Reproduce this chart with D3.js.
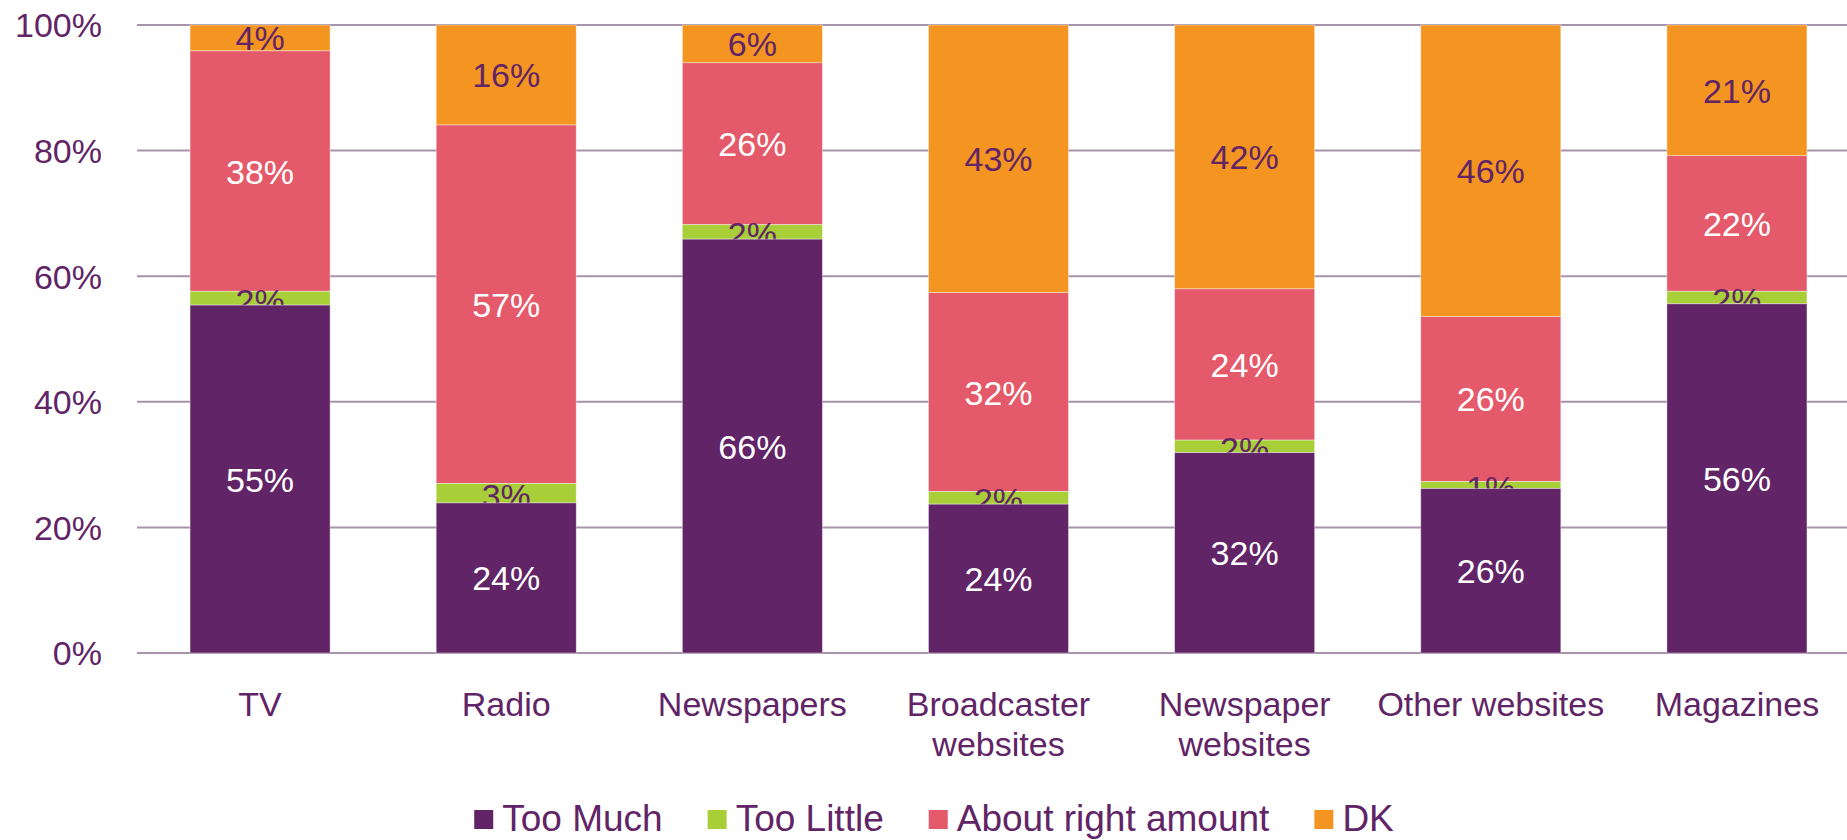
<!DOCTYPE html>
<html>
<head>
<meta charset="utf-8">
<script src="https://cdn.jsdelivr.net/npm/d3@7"></script>
<style>
  html, body { margin: 0; padding: 0; background: #fff; }
  svg { display: block; font-family: "Liberation Sans", Arial, sans-serif; }
</style>
</head>
<body>
<svg id="chart" width="1847" height="840"></svg>
<script>
const categories = ["TV", "Radio", "Newspapers", "Broadcaster websites", "Newspaper websites", "Other websites", "Magazines"];
const seriesNames = ["Too Much", "Too Little", "About right amount", "DK"];
const tooMuch   = [55.4, 23.9, 65.9, 23.7, 31.9, 26.2, 55.6];
const tooLittle = [2.2, 3.1, 2.3, 2.0, 2.0, 1.1, 2.0];
const aboutRight= [38.3, 57.1, 25.8, 31.7, 24.1, 26.3, 21.6];
const dk        = [4.1, 15.9, 6.0, 42.6, 42.0, 46.4, 20.8];
const yTicks = [0, 20, 40, 60, 80, 100];
const colors = ["#612466", "#A8CE38", "#E55A6A", "#F39520"];
const labelColors = ["#ffffff", "#612466", "#ffffff", "#612466"];
const textColor = "#612466";

const svg = d3.select("#chart");
const x = d3.scaleBand().domain(categories).range([137, 1860]).paddingInner(0.431).paddingOuter(0.2155);
const y = d3.scaleLinear().domain([0, 100]).range([653, 25]);

const rows = categories.map((c, i) => ({cat: c, "Too Much": tooMuch[i], "Too Little": tooLittle[i], "About right amount": aboutRight[i], "DK": dk[i]}));
const stacked = d3.stack().keys(seriesNames)(rows);

// gridlines
svg.append("g").selectAll("line").data(yTicks).join("line")
  .attr("x1", 137).attr("x2", 1847)
  .attr("y1", d => y(d)).attr("y2", d => y(d))
  .attr("stroke", "#A793AA").attr("stroke-width", 2);

// y axis labels
svg.append("g").selectAll("text").data(yTicks).join("text")
  .attr("x", 102).attr("y", d => y(d) + 12.3)
  .attr("text-anchor", "end").attr("font-size", 34).attr("fill", textColor)
  .text(d => d + "%");

function drawRects(si) {
  svg.append("g").selectAll("rect").data(stacked[si]).join("rect")
    .attr("x", d => x(d.data.cat)).attr("width", x.bandwidth())
    .attr("y", d => y(d[1])).attr("height", d => y(d[0]) - y(d[1]))
    .attr("fill", colors[si]).attr("stroke", "#ffffff").attr("stroke-opacity", 0.5).attr("stroke-width", 0.8);
}
function drawLabels(si, dyExtra) {
  svg.append("g").selectAll("text").data(stacked[si]).join("text")
    .attr("x", d => x(d.data.cat) + x.bandwidth() / 2)
    .attr("y", d => (y(d[0]) + y(d[1])) / 2 + 12.5 + dyExtra)
    .attr("text-anchor", "middle").attr("font-size", 34).attr("fill", labelColors[si])
    .text(d => Math.round(d[1] - d[0]) + "%");
}
drawRects(2);
drawRects(3);
drawRects(1);
drawLabels(1, 2);
drawRects(0);
drawLabels(0, 0);
drawLabels(2, 0);
drawLabels(3, 0);

// category labels with wrapping
const catG = svg.append("g");
categories.forEach(c => {
  const t = catG.append("text").attr("x", x(c) + x.bandwidth() / 2).attr("y", 716)
    .attr("text-anchor", "middle").attr("font-size", 34).attr("fill", textColor);
  const words = c.split(" ");
  let line = [];
  let tspan = t.append("tspan").attr("x", x(c) + x.bandwidth() / 2).attr("dy", 0);
  words.forEach(w => {
    line.push(w);
    tspan.text(line.join(" "));
    if (tspan.node().getComputedTextLength() > 238 && line.length > 1) {
      line.pop();
      tspan.text(line.join(" "));
      line = [w];
      tspan = t.append("tspan").attr("x", x(c) + x.bandwidth() / 2).attr("dy", 40).text(w);
    }
  });
});

// legend
const leg = svg.append("g");
const items = [];
seriesNames.forEach((s, i) => {
  const g = leg.append("g");
  g.append("rect").attr("x", 0).attr("y", 810).attr("width", 19).attr("height", 19).attr("fill", colors[i]);
  const t = g.append("text").attr("x", 28).attr("y", 831).attr("font-size", 37).attr("fill", textColor).text(s);
  const w = 28 + t.node().getComputedTextLength();
  items.push({g, w});
});
const gap = 45;
const total = d3.sum(items, d => d.w) + gap * (items.length - 1);
let cx = 934 - total / 2;
items.forEach(it => { it.g.attr("transform", `translate(${cx},0)`); cx += it.w + gap; });
</script>
</body>
</html>
